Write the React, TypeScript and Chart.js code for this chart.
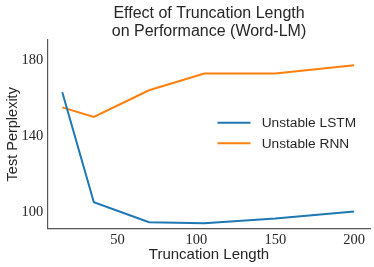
import React, { useEffect, useRef } from "react";
import { Chart, registerables } from "chart.js";

Chart.register(...registerables);

const truncationLengths = [15, 35, 70, 105, 150, 200];
const lstmPerplexity = [163, 105.2, 94.7, 94.2, 96.6, 100.3];
const rnnPerplexity = [155, 150, 164, 172.8, 172.8, 177.2];
const xTicks = [50, 100, 150, 200];
const yTicks = [100, 140, 180];
const seriesNames = ["Unstable LSTM", "Unstable RNN"];
const titleLines = ["Effect of Truncation Length", "on Performance (Word-LM)"];
const xTitle = "Truncation Length";
const yTitle = "Test Perplexity";

const BLUE = "#1f77b4";
const ORANGE = "#ff7f0e";
const SANS = "'Liberation Sans', Arial, sans-serif";
const SERIF = "'Liberation Serif', serif";

const overlay = {
  id: "overlay",
  afterDraw(chart: any) {
    const { ctx, chartArea } = chart;
    const cx = (chartArea.left + chartArea.right) / 2;
    const cy = (chartArea.top + chartArea.bottom) / 2;
    ctx.save();
    ctx.fillStyle = "#262626";
    ctx.textAlign = "center";
    ctx.textBaseline = "alphabetic";
    ctx.font = `16px ${SANS}`;
    ctx.fillText(titleLines[0], cx, 18.3);
    ctx.fillText(titleLines[1], cx, 36);
    ctx.font = `15px ${SANS}`;
    ctx.fillText(xTitle, cx, 259);
    ctx.save();
    ctx.translate(16.5, cy);
    ctx.rotate(-Math.PI / 2);
    ctx.font = `14.5px ${SANS}`;
    ctx.fillText(yTitle, 0, 0);
    ctx.restore();
    // legend
    const rows = [122.7, 143.3];
    chart.data.datasets.forEach((ds: any, i: number) => {
      const y = rows[i];
      ctx.strokeStyle = ds.borderColor;
      ctx.lineWidth = 2;
      ctx.beginPath();
      ctx.moveTo(217.5, y);
      ctx.lineTo(250.5, y);
      ctx.stroke();
      ctx.fillStyle = "#262626";
      ctx.textAlign = "left";
      ctx.textBaseline = "middle";
      ctx.font = `13.7px ${SANS}`;
      ctx.fillText(ds.label, 261.7, y + 0.5);
    });
    ctx.restore();
  },
};

export default function App() {
  const ref = useRef<HTMLCanvasElement>(null);
  useEffect(() => {
    document.body.style.margin = "0";
    const chart = new Chart(ref.current!, {
      type: "line",
      data: {
        datasets: [
          {
            label: seriesNames[0],
            data: truncationLengths.map((x, i) => ({ x, y: lstmPerplexity[i] })),
            borderColor: BLUE,
            backgroundColor: BLUE,
            borderWidth: 2,
            pointRadius: 0,
            tension: 0,
          },
          {
            label: seriesNames[1],
            data: truncationLengths.map((x, i) => ({ x, y: rnnPerplexity[i] })),
            borderColor: ORANGE,
            backgroundColor: ORANGE,
            borderWidth: 2,
            pointRadius: 0,
            tension: 0,
          },
        ],
      },
      options: {
        animation: false,
        responsive: false,
        devicePixelRatio: 1,
        layout: { padding: { top: 40, right: 3.3, left: 0, bottom: 0 } },
        plugins: {
          legend: { display: false },
          title: { display: false },
          tooltip: { enabled: false },
        },
        scales: {
          x: {
            type: "linear",
            min: 5.5,
            max: 210.5,
            afterBuildTicks: (s: any) => {
              s.ticks = xTicks.map((v) => ({ value: v }));
            },
            afterFit: (s: any) => {
              s.height = 38.5;
            },
            grid: { display: false, drawTicks: false, tickLength: 0 },
            border: { display: true, color: "#555555", width: 1.2 },
            ticks: {
              font: { family: SERIF, size: 14.5 },
              color: "#262626",
              padding: 3,
              maxRotation: 0,
              callback: (v: any) => String(v),
            },
          },
          y: {
            type: "linear",
            min: 91.4,
            max: 190.4,
            afterBuildTicks: (s: any) => {
              s.ticks = yTicks.map((v) => ({ value: v }));
            },
            afterFit: (s: any) => {
              s.width = 47.3;
            },
            grid: { display: false, drawTicks: false, tickLength: 0 },
            border: { display: true, color: "#555555", width: 1.2 },
            ticks: {
              font: { family: SERIF, size: 14.5 },
              color: "#262626",
              padding: 4,
              callback: (v: any) => String(v),
            },
          },
        },
      },
      plugins: [overlay],
    });
    return () => chart.destroy();
  }, []);
  return (
    <div style={{ width: 374, height: 267 }}>
      <canvas ref={ref} width={374} height={267} />
    </div>
  );
}
